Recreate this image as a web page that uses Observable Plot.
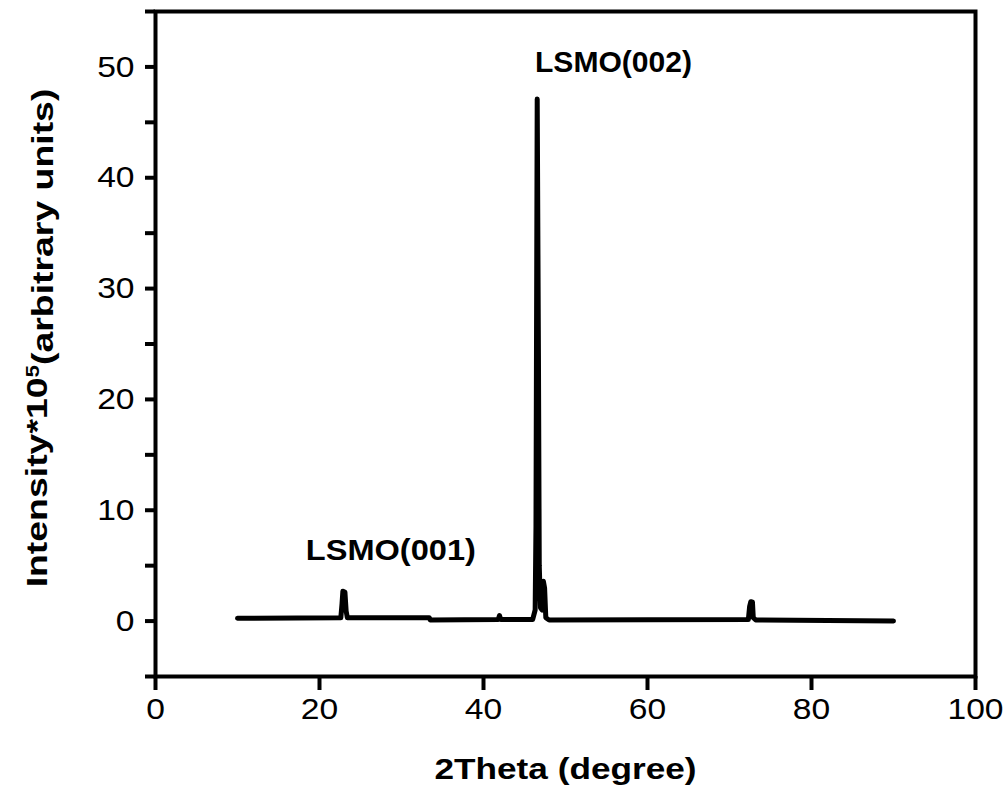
<!DOCTYPE html>
<html><head><meta charset="utf-8">
<script src="https://cdn.jsdelivr.net/npm/d3@7"></script>
<script src="https://cdn.jsdelivr.net/npm/@observablehq/plot@0.6"></script>
<style>
body{margin:0;background:#fff;}
#chart svg{display:block;}
</style></head><body><div id="chart"></div>
<script>
// XRD pattern
const twoTheta = [10.0, 22.6, 22.75, 22.85, 23.1, 23.25, 23.4, 33.4, 33.5, 41.8, 41.95, 42.1,
  46.0, 46.3, 46.4, 46.55, 46.7, 46.8, 46.95, 47.15, 47.3, 47.45, 47.6, 48.0,
  72.3, 72.45, 72.6, 72.8, 72.9, 73.2, 90.0];
const intensity = [0.25, 0.3, 1.6, 2.7, 2.6, 0.9, 0.3, 0.3, 0.1, 0.15, 0.5, 0.15,
  0.15, 1.0, 8.6, 47.1, 24.0, 5.0, 1.2, 1.0, 3.6, 3.0, 0.3, 0.1,
  0.15, 1.3, 1.75, 1.7, 0.3, 0.1, 0.0];
const peakNames = ["LSMO(001)", "LSMO(002)"];
const peakNameX = [28.7, 55.85];
const peakNameY = [6.4, 50.4];
const xTicks = [0, 20, 40, 60, 80, 100];
const yTicks = [0, 10, 20, 30, 40, 50];
const yMinorTicks = [-5, 5, 15, 25, 35, 45, 55];
const xTitle = "2Theta (degree)";
const yTitleMain = "Intensity*10";
const yTitleSup = "5";
const yTitleTail = "(arbitrary units)";

const data = twoTheta.map((t, i) => ({t, v: intensity[i]}));
const labels = peakNames.map((n, i) => ({n, x: peakNameX[i], y: peakNameY[i]}));

const chart = Plot.plot({
  width: 1006, height: 794,
  marginLeft: 155, marginRight: 31, marginTop: 11, marginBottom: 118,
  style: {fontFamily: "'Liberation Sans', Arial, sans-serif", fontSize: "30px", color: "#000", background: "#fff"},
  x: {domain: [0, 100]},
  y: {domain: [-5, 55]},
  marks: [
    Plot.axisY(yMinorTicks, {tickSize: 10, strokeWidth: 4, text: null, label: null}),
    Plot.axisY(yTicks, {tickSize: 10, strokeWidth: 4, tickPadding: 11, fontSize: 30, label: null, className: "yt"}),
    Plot.axisX(xTicks, {tickSize: 14, strokeWidth: 4, tickPadding: 7, fontSize: 30, label: null, className: "xt"}),
    Plot.frame({stroke: "black", strokeWidth: 4}),
    Plot.line(data, {x: "t", y: "v", stroke: "black", strokeWidth: 5, strokeLinejoin: "round", strokeLinecap: "round"}),
    Plot.text(labels, {x: "x", y: "y", text: "n", fontWeight: "bold", fontSize: 30, fill: "black", className: "peaklab"}),
    Plot.text([xTitle], {frameAnchor: "bottom", dy: 102, fontWeight: "bold", fontSize: 30, fill: "black", className: "xtitle"}),
    Plot.text([yTitleMain], {frameAnchor: "left", textAnchor: "middle", dx: -118, dy: -6, rotate: -90, fontWeight: "bold", fontSize: 30, fill: "black", className: "ytitle"})
  ]
});
document.getElementById("chart").appendChild(chart);

const svg = d3.select(chart);
// horizontally stretched tick labels, as in the reference
svg.selectAll(".xt text").each(function () {
  const w = this.getComputedTextLength();
  d3.select(this).attr("textLength", w * 1.12).attr("lengthAdjust", "spacingAndGlyphs");
});
svg.selectAll(".yt text").each(function () {
  const w = this.getComputedTextLength();
  d3.select(this).attr("textLength", w * 1.12).attr("lengthAdjust", "spacingAndGlyphs");
});
svg.selectAll(".xtitle text").attr("textLength", 262).attr("lengthAdjust", "spacingAndGlyphs");
const peakWidths = [170, 157];
svg.selectAll(".peaklab text").each(function (d, i) {
  d3.select(this).attr("textLength", peakWidths[i]).attr("lengthAdjust", "spacingAndGlyphs");
});
const yt = svg.select(".ytitle text");
yt.text(null);
yt.append("tspan").text(yTitleMain);
yt.append("tspan").attr("dy", "-0.45em").attr("font-size", "18px").text(yTitleSup);
yt.append("tspan").attr("dy", "0.45em").text(yTitleTail);
const natural = yt.node().getComputedTextLength();
const tr = yt.attr("transform") || "";
yt.attr("transform", tr + " scale(" + (499 / natural) + ",1)");
</script></body></html>
